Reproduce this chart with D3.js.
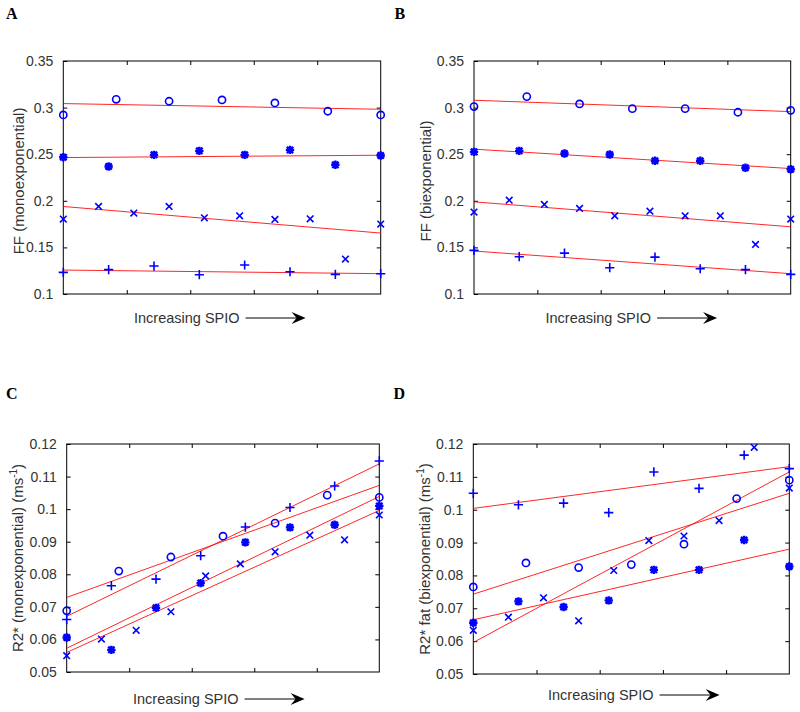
<!DOCTYPE html>
<html>
<head>
<meta charset="utf-8">
<script src="https://cdn.jsdelivr.net/npm/d3@7"></script>
<style>
  body { margin: 0; background: #fff; }
  svg { display: block; }
  text { font-family: "Liberation Sans", Arial, Helvetica, sans-serif; }
  text.letter { font-family: "Liberation Serif", "Times New Roman", serif; font-weight: bold; }
</style>
</head>
<body>
<svg id="chart" width="800" height="712"></svg>
<script>
// ---------------- DATA ----------------
// Panel A: FF (monoexponential)
const aCircle   = [0.2921, 0.3089, 0.3068, 0.3082, 0.3050, 0.2961, 0.2921];
const aStar     = [0.2468, 0.2368, 0.2493, 0.2536, 0.2493, 0.2546, 0.2386, 0.2486];
const aX        = [0.1804, 0.1939, 0.1868, 0.1939, 0.1818, 0.1839, 0.1800, 0.1807, 0.1375, 0.1750];
const aPlus     = [0.1232, 0.1261, 0.1300, 0.1207, 0.1311, 0.1239, 0.1211, 0.1218];
const aFits     = [[0.3043, 0.2982], [0.2464, 0.2489], [0.1939, 0.1654], [0.1257, 0.1218]];

// Panel B: FF (biexponential)
const bCircle   = [0.3011, 0.3118, 0.3039, 0.2989, 0.2989, 0.2950, 0.2971];
const bStar     = [0.2525, 0.2536, 0.2507, 0.2496, 0.2429, 0.2429, 0.2354, 0.2339];
const bX        = [0.1879, 0.2007, 0.1961, 0.1918, 0.1839, 0.1889, 0.1839, 0.1839, 0.1532, 0.1804];
const bPlus     = [0.1468, 0.1400, 0.1439, 0.1282, 0.1396, 0.1271, 0.1261, 0.1211];
const bFits     = [[0.3079, 0.2957], [0.2554, 0.2346], [0.1989, 0.1721], [0.1461, 0.1218]];

// Panel C: R2* (monexponential)
const cCircle   = [0.0688, 0.0810, 0.0853, 0.0917, 0.0957, 0.1043, 0.1036];
const cStar     = [0.0606, 0.0568, 0.0697, 0.0773, 0.0898, 0.0944, 0.0952, 0.1010];
const cX        = [0.0550, 0.0601, 0.0628, 0.0685, 0.0795, 0.0832, 0.0869, 0.0920, 0.0906, 0.0982];
const cPlus     = [0.0661, 0.0765, 0.0785, 0.0857, 0.0945, 0.1005, 0.1071, 0.1148];
const cFits     = [[0.0729, 0.1073], [0.0573, 0.1039], [0.0560, 0.0996], [0.0671, 0.1139]];

// Panel D: R2* fat (biexponential)
const dCircle   = [0.0765, 0.0838, 0.0824, 0.0833, 0.0895, 0.1034, 0.1090];
const dStar     = [0.0656, 0.0721, 0.0704, 0.0724, 0.0817, 0.0817, 0.0908, 0.0827];
const dX        = [0.0633, 0.0673, 0.0732, 0.0662, 0.0815, 0.0906, 0.0920, 0.0967, 0.1190, 0.1066];
const dPlus     = [0.1050, 0.1015, 0.1020, 0.0991, 0.1115, 0.1065, 0.1166, 0.1125];
const dFits     = [[0.0743, 0.1050], [0.0665, 0.0880], [0.0596, 0.1115], [0.1004, 0.1131]];

const ffTicks   = [0.1, 0.15, 0.2, 0.25, 0.3, 0.35];
const ffLabels  = ["0.1", "0.15", "0.2", "0.25", "0.3", "0.35"];
const r2Ticks   = [0.05, 0.06, 0.07, 0.08, 0.09, 0.1, 0.11, 0.12];
const r2Labels  = ["0.05", "0.06", "0.07", "0.08", "0.09", "0.1", "0.11", "0.12"];
const xTicks    = [0.2, 0.4, 0.6, 0.8];
const panelLetters = ["A", "B", "C", "D"];
const xLabel    = "Increasing SPIO";

// ---------------- LAYOUT ----------------
const panels = [
  { letter: panelLetters[0], box: [63.3, 380.7, 61, 294], dom: [0.1, 0.35], ticks: ffTicks, labels: ffLabels,
    ylab: ["FF (monoexponential)"], ylabX: 19, ylabY: 181, letterXY: [6, 19], xlabY: 318, xlabX: 134,
    series: { circle: aCircle, star: aStar, x: aX, plus: aPlus }, fits: aFits },
  { letter: panelLetters[1], box: [474, 790.7, 61, 294], dom: [0.1, 0.35], ticks: ffTicks, labels: ffLabels,
    ylab: ["FF (biexponential)"], ylabX: 426, ylabY: 181, letterXY: [394.5, 19], xlabY: 318, xlabX: 545.5,
    series: { circle: bCircle, star: bStar, x: bX, plus: bPlus }, fits: bFits },
  { letter: panelLetters[2], box: [66.7, 379.3, 444, 672], dom: [0.05, 0.12], ticks: r2Ticks, labels: r2Labels,
    ylab: ["R2* (monexponential) (ms", ")"], ylabX: 18, ylabY: 558, letterXY: [6, 399], xlabY: 699, xlabX: 133,
    series: { circle: cCircle, star: cStar, x: cX, plus: cPlus }, fits: cFits },
  { letter: panelLetters[3], box: [473.3, 789.3, 444, 674], dom: [0.05, 0.12], ticks: r2Ticks, labels: r2Labels,
    ylab: ["R2* fat (biexponential) (ms", ")"], ylabX: 425, ylabY: 559, letterXY: [393.5, 399], xlabY: 695, xlabX: 548,
    series: { circle: dCircle, star: dStar, x: dX, plus: dPlus }, fits: dFits }
];

const svg = d3.select("#chart");
const BLUE = "#0000ff", RED = "#ff0000";

function markerPath(type, s) {
  const p = d3.path();
  if (type === "plus") {
    p.moveTo(-s, 0); p.lineTo(s, 0); p.moveTo(0, -s); p.lineTo(0, s);
  } else if (type === "x") {
    const t = s * 0.75;
    p.moveTo(-t, -t); p.lineTo(t, t); p.moveTo(-t, t); p.lineTo(t, -t);
  } else if (type === "star") {
    const t = s * 0.75;
    p.moveTo(-s, 0); p.lineTo(s, 0); p.moveTo(0, -s); p.lineTo(0, s);
    p.moveTo(-t, -t); p.lineTo(t, t); p.moveTo(-t, t); p.lineTo(t, -t);
  }
  return p.toString();
}

panels.forEach(P => {
  const [l, r, t, b] = P.box;
  const x = d3.scaleLinear().domain([0, 1]).range([l, r]);
  const y = d3.scaleLinear().domain(P.dom).range([b, t]);
  const g = svg.append("g");

  // Box
  g.append("rect").attr("x", l).attr("y", t).attr("width", r - l).attr("height", b - t)
    .attr("fill", "none").attr("stroke", "#000").attr("stroke-width", 1);

  // Left axis with labels, inward ticks
  const left = g.append("g").attr("transform", `translate(${l},0)`)
    .call(d3.axisLeft(y).tickValues(P.ticks).tickSizeInner(-4).tickSizeOuter(0)
      .tickPadding(10).tickFormat((d, i) => P.labels[i]));
  left.select(".domain").remove();
  left.selectAll("line").attr("stroke", "#000");
  left.selectAll("text").attr("font-size", 14).attr("fill", "#333");

  // Right axis ticks (inward)
  const right = g.append("g").attr("transform", `translate(${r},0)`)
    .call(d3.axisRight(y).tickValues(P.ticks.slice(1, -1)).tickSizeInner(-4).tickSizeOuter(0).tickFormat(""));
  right.select(".domain").remove();

  // Bottom & top ticks (inward, no labels)
  const bottom = g.append("g").attr("transform", `translate(0,${b})`)
    .call(d3.axisBottom(x).tickValues(xTicks).tickSizeInner(-4).tickSizeOuter(0).tickFormat(""));
  bottom.select(".domain").remove();
  const top = g.append("g").attr("transform", `translate(0,${t})`)
    .call(d3.axisTop(x).tickValues(xTicks).tickSizeInner(-4).tickSizeOuter(0).tickFormat(""));
  top.select(".domain").remove();

  // Fit lines
  const line = d3.line().x(d => x(d[0])).y(d => y(d[1]));
  P.fits.forEach(f => {
    g.append("path").datum([[0, f[0]], [1, f[1]]]).attr("d", line)
      .attr("fill", "none").attr("stroke", RED).attr("stroke-width", 1).attr("stroke-opacity", 0.85);
  });

  // Markers
  const types = ["circle", "star", "x", "plus"];
  types.forEach(tp => {
    const vals = P.series[tp];
    const n = vals.length - 1;
    const pts = vals.map((v, i) => [i / n, v]);
    if (tp === "circle") {
      g.selectAll(null).data(pts).enter().append("circle")
        .attr("cx", d => x(d[0])).attr("cy", d => y(d[1])).attr("r", 3.6)
        .attr("fill", "none").attr("stroke", BLUE).attr("stroke-width", 1.6);
    } else {
      const s = tp === "plus" ? 4.6 : (tp === "x" ? 4.4 : 4.2);
      const sw = tp === "star" ? 2.4 : 1.6;
      g.selectAll(null).data(pts).enter().append("path")
        .attr("transform", d => `translate(${x(d[0])},${y(d[1])})`)
        .attr("d", markerPath(tp, s))
        .attr("fill", "none").attr("stroke", BLUE).attr("stroke-width", sw);
    }
  });

  // Y label
  const yl = svg.append("text")
    .attr("transform", `translate(${P.ylabX},${P.ylabY}) rotate(-90)`)
    .attr("text-anchor", "middle").attr("dy", "0.35em")
    .attr("font-size", 15).attr("fill", "#333");
  yl.append("tspan").text(P.ylab[0]);
  if (P.ylab.length > 1) {
    yl.append("tspan").attr("font-size", 10).attr("dy", "-0.6em").text("-1");
    yl.append("tspan").attr("dy", "0.4em").text(P.ylab[1]);
  }

  // X label with arrow
  const xt = svg.append("text").attr("x", P.xlabX).attr("y", P.xlabY).attr("dy", "0.35em")
    .attr("font-size", 14.5).attr("fill", "#333").text(xLabel);
  const tw = xt.node().getComputedTextLength();
  const ax0 = P.xlabX + tw + 6, ax1 = ax0 + 60;
  svg.append("line").attr("x1", ax0).attr("x2", ax1 - 8).attr("y1", P.xlabY).attr("y2", P.xlabY)
    .attr("stroke", "#000").attr("stroke-width", 1);
  svg.append("path")
    .attr("d", `M${ax1},${P.xlabY} L${ax1 - 14},${P.xlabY - 6} L${ax1 - 9},${P.xlabY} L${ax1 - 14},${P.xlabY + 6} Z`)
    .attr("fill", "#000");

  // Panel letter
  svg.append("text").attr("class", "letter").attr("x", P.letterXY[0]).attr("y", P.letterXY[1])
    .attr("font-size", 16).attr("fill", "#000").text(P.letter);
});
</script>
</body>
</html>
